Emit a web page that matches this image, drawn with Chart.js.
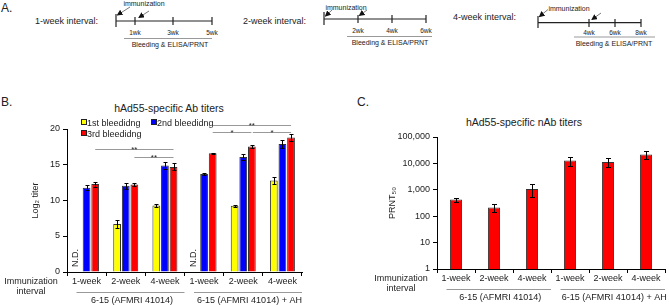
<!DOCTYPE html>
<html>
<head>
<meta charset="utf-8">
<script src="https://cdn.jsdelivr.net/npm/chart.js@4.4.1/dist/chart.umd.min.js"></script>
<style>
    body { margin: 0; width: 669px; height: 305px; position: relative; background: #fff; overflow: hidden;
           font-family: "Liberation Sans", Arial, sans-serif; color: #222; }
    .abs { position: absolute; white-space: nowrap; line-height: 1; }
    .letter { font-size: 12px; }
    .title { font-size: 10.5px; transform: translate(-50%, -50%); }
    .leg { font-size: 9px; transform: translateY(-50%); }
    .box { position: absolute; width: 4px; height: 4px; border: 1px solid #222; }
    .ytick { position: absolute; font-size: 9px; line-height: 1; white-space: nowrap; text-align: right; width: 30px; z-index: 10; color: #222; }
    canvas { position: absolute; }
</style>
</head>
<body>

<svg class="abs" style="left:0;top:0" width="669" height="95" font-family="Liberation Sans, Arial, sans-serif" fill="#222">
    <defs>
        <marker id="ah" markerWidth="6" markerHeight="6" refX="5" refY="3" orient="auto" markerUnits="userSpaceOnUse">
            <path d="M0,0 L6,3 L0,6 z" fill="#111"/>
        </marker>
    </defs>
    <text x="1" y="12" font-size="12">A.</text>

    <!-- 1-week -->
    <text x="35" y="24" font-size="9">1-week interval:</text>
    <g stroke="#222" stroke-width="1.2">
        <line x1="116" y1="21" x2="212" y2="21"/>
        <line x1="116" y1="14" x2="116" y2="27"/>
        <line x1="135" y1="17" x2="135" y2="25"/>
        <line x1="173" y1="17" x2="173" y2="25"/>
        <line x1="212" y1="17" x2="212" y2="25"/>
    </g>
    <g font-size="6.5" text-anchor="middle">
        <text x="135" y="34.5">1wk</text><text x="173" y="34.5">3wk</text><text x="212" y="34.5">5wk</text>
    </g>
    <line x1="124" y1="38.5" x2="212" y2="38.5" stroke="#999"/>
    <text x="170" y="47" font-size="7" text-anchor="middle">Bleeding &amp; ELISA/PRNT</text>
    <text x="144" y="6" font-size="7" text-anchor="middle">immunization</text>
    <g stroke="#555" stroke-width="0.8" marker-end="url(#ah)">
        <line x1="130" y1="7" x2="117.5" y2="15"/>
        <line x1="149" y1="11" x2="139" y2="17.5"/>
    </g>

    <!-- 2-week -->
    <text x="243" y="24" font-size="9">2-week interval:</text>
    <g stroke="#222" stroke-width="1.2">
        <line x1="324" y1="19" x2="426" y2="19"/>
        <line x1="324" y1="12" x2="324" y2="25"/>
        <line x1="358" y1="15" x2="358" y2="23"/>
        <line x1="392" y1="15" x2="392" y2="23"/>
        <line x1="426" y1="15" x2="426" y2="23"/>
    </g>
    <g font-size="6.5" text-anchor="middle">
        <text x="358" y="32.5">2wk</text><text x="392" y="32.5">4wk</text><text x="426" y="32.5">6wk</text>
    </g>
    <line x1="347" y1="36.5" x2="432" y2="36.5" stroke="#999"/>
    <text x="390" y="45" font-size="7" text-anchor="middle">Bleeding &amp; ELISA/PRNT</text>
    <text x="346" y="9.5" font-size="7" text-anchor="middle">immunization</text>
    <g stroke="#555" stroke-width="0.8" marker-end="url(#ah)">
        <line x1="332" y1="10" x2="325.5" y2="16"/>
        <line x1="367" y1="10" x2="359.5" y2="15.5"/>
    </g>

    <!-- 4-week -->
    <text x="453" y="20" font-size="9">4-week interval:</text>
    <g stroke="#222" stroke-width="1.2">
        <line x1="538" y1="22.7" x2="641" y2="22.7"/>
        <line x1="538" y1="16" x2="538" y2="28"/>
        <line x1="589" y1="19" x2="589" y2="27"/>
        <line x1="615" y1="19" x2="615" y2="27"/>
        <line x1="641" y1="19" x2="641" y2="27"/>
    </g>
    <g font-size="6.5" text-anchor="middle">
        <text x="589" y="34.8">4wk</text><text x="615" y="34.8">6wk</text><text x="641" y="34.8">8wk</text>
    </g>
    <line x1="574" y1="37" x2="655" y2="37" stroke="#999"/>
    <text x="614" y="46" font-size="7" text-anchor="middle">Bleeding &amp; ELISA/PRNT</text>
    <text x="569" y="10.5" font-size="7" text-anchor="middle">immunization</text>
    <g stroke="#555" stroke-width="0.8" marker-end="url(#ah)">
        <line x1="548" y1="9.5" x2="539.5" y2="16.5"/>
        <line x1="601" y1="13" x2="592" y2="19.5"/>
    </g>
</svg>

<div class="abs letter" style="left:1px;top:96px">B.</div>
<div class="abs title" style="left:169px;top:108px">hAd55-specific Ab titers</div>
<div class="abs letter" style="left:357px;top:96px">C.</div>
<div class="abs title" style="left:524px;top:122px">hAd55-specific nAb titers</div>

<canvas id="chartB" width="310" height="205" style="left:0;top:100px"></canvas>
<canvas id="chartC" width="339" height="205" style="left:330px;top:100px"></canvas>

<div class="box" style="left:81px;top:119px;background:#ffff00"></div>
<div class="abs leg" style="left:87px;top:122.5px">1st bleedidng</div>
<div class="box" style="left:151px;top:119px;background:#0000ff"></div>
<div class="abs leg" style="left:157px;top:122.5px">2nd bleedidng</div>
<div class="box" style="left:81px;top:130px;background:#ff0000"></div>
<div class="abs leg" style="left:87px;top:133.5px">3rd bleedidng</div>

<script>
    // categories
    const intervals = ['1-week', '2-week', '4-week', '1-week', '2-week', '4-week'];
    const groups = ['6-15 (AFMRI 41014)', '6-15 (AFMRI 41014) + AH'];

    // panel B: log2 titers (null = N.D.)
    const bleed1 = [null, 6.7, 9.3, null, 9.25, 12.8];
    const bleed1Err = [null, 0.55, 0.2, null, 0.15, 0.5];
    const bleed2 = [11.8, 12.05, 14.9, 13.7, 16.1, 17.9];
    const bleed2Err = [0.4, 0.38, 0.55, 0.08, 0.42, 0.55];
    const bleed3 = [12.3, 12.25, 14.7, 16.6, 17.55, 18.8];
    const bleed3Err = [0.35, 0.2, 0.5, 0.08, 0.2, 0.47];
    const titerTicks = [0, 5, 10, 15, 20];

    // significance brackets (between 3rd bleeding bars)
    const sigFrom = [0, 1, 3, 3, 4];
    const sigTo = [2, 2, 5, 4, 5];
    const sigLevel = [17.2, 16.1, 20.6, 19.65, 19.65];
    const sigMark = ['**', '**', '**', '*', '*'];

    // panel C: PRNT50
    const prnt = [430, 215, 1070, 13000, 11400, 21500];
    const prntErr = [75, 70, 550, 5000, 4200, 7000];
    const prntTicks = [1, 10, 100, 1000, 10000, 100000];

    const FONT = '"Liberation Sans", Arial, sans-serif';
    Chart.defaults.font.family = FONT;
    Chart.defaults.color = '#222';

    function drawErrors(chart, errs, cap) {
        const ctx = chart.ctx, yS = chart.scales.y;
        ctx.save();
        ctx.strokeStyle = '#000';
        ctx.lineWidth = 1;
        chart.data.datasets.forEach(function (ds, d) {
            chart.getDatasetMeta(d).data.forEach(function (bar, i) {
                const v = ds.data[i], e = errs[d][i];
                if (v == null || e == null) return;
                const x = Math.round(bar.x) + 0.5;
                const t = Math.round(yS.getPixelForValue(v + e)) + 0.5;
                const b = Math.round(yS.getPixelForValue(v - e)) + 0.5;
                ctx.beginPath();
                ctx.moveTo(x, t); ctx.lineTo(x, b);
                ctx.moveTo(x - cap, t); ctx.lineTo(x + cap, t);
                ctx.moveTo(x - cap, b); ctx.lineTo(x + cap, b);
                ctx.stroke();
            });
        });
        ctx.restore();
    }

    function drawGroups(chart) {
        const ctx = chart.ctx, xS = chart.scales.x, area = chart.chartArea;
        const half = (xS.getPixelForValue(1) - xS.getPixelForValue(0)) / 2;
        ctx.save();
        ctx.font = '9px ' + FONT;
        ctx.textAlign = 'center';
        ctx.textBaseline = 'middle';
        ctx.fillStyle = '#222';
        groups.forEach(function (g, k) {
            const x0 = xS.getPixelForValue(k * 3) - half + 9.5;
            const x1 = xS.getPixelForValue(k * 3 + 2) + half;
            const ly = Math.round(area.bottom + 19.5) + 0.5;
            ctx.strokeStyle = '#999';
            ctx.beginPath();
            ctx.moveTo(x0, ly); ctx.lineTo(x1, ly);
            ctx.stroke();
            ctx.fillText(g, (x0 + x1) / 2 + 1.5, area.bottom + 28.5);
        });
        ctx.fillText('Immunization', area.left - 36, area.bottom + 9.5);
        ctx.fillText('interval', area.left - 36, area.bottom + 19.5);
        ctx.restore();
    }

    const plotB = {
        id: 'plotB',
        afterDatasetsDraw(chart) {
            drawErrors(chart, [bleed1Err, bleed2Err, bleed3Err], 2);
            const ctx = chart.ctx, yS = chart.scales.y, area = chart.chartArea;
            const red = chart.getDatasetMeta(2).data;
            const yellow = chart.getDatasetMeta(0).data;
            ctx.save();
            // brackets
            ctx.font = '8px ' + FONT;
            ctx.textAlign = 'center';
            ctx.textBaseline = 'alphabetic';
            ctx.fillStyle = '#222';
            sigFrom.forEach(function (a, k) {
                const y = Math.round(yS.getPixelForValue(sigLevel[k])) + 0.5;
                const x0 = red[a].x + (k === 4 ? 1 : 0);
                const x1 = red[sigTo[k]].x - (k === 3 ? 0.5 : 0);
                ctx.strokeStyle = '#999';
                ctx.beginPath();
                ctx.moveTo(x0, y); ctx.lineTo(x1, y);
                ctx.stroke();
                ctx.fillText(sigMark[k], (x0 + x1) / 2, y + 2.5);
            });
            // N.D.
            ctx.font = '9px ' + FONT;
            ctx.textAlign = 'left';
            ctx.textBaseline = 'middle';
            bleed1.forEach(function (v, i) {
                if (v != null) return;
                ctx.save();
                ctx.translate(yellow[i].x - 2, area.bottom - 5);
                ctx.rotate(-Math.PI / 2);
                ctx.fillText('N.D.', 0, 0);
                ctx.restore();
            });
            ctx.restore();
            drawGroups(chart);
        }
    };

    const plotC = {
        id: 'plotC',
        afterDatasetsDraw(chart) {
            drawErrors(chart, [prntErr], 2.5);
            drawGroups(chart);
        }
    };

    const axisGrid = { display: true, drawOnChartArea: false, drawTicks: true, tickLength: 4, color: '#000' };

    const chartB = new Chart(document.getElementById('chartB'), {
        type: 'bar',
        data: {
            labels: intervals,
            datasets: [
                { label: '1st bleedidng', data: bleed1, backgroundColor: '#ffff00' },
                { label: '2nd bleedidng', data: bleed2, backgroundColor: '#0000ff' },
                { label: '3rd bleedidng', data: bleed3, backgroundColor: '#ff0000' }
            ]
        },
        options: {
            responsive: false,
            animation: false,
            devicePixelRatio: 1,
            layout: { padding: { left: 26, right: 8, top: 29, bottom: 0 } },
            datasets: { bar: { categoryPercentage: 0.66, barPercentage: 0.9, borderWidth: 1, borderColor: '#333' } },
            plugins: { legend: { display: false }, tooltip: { enabled: false } },
            scales: {
                x: {
                    grid: Object.assign({ offset: true }, axisGrid),
                    border: { color: '#000' },
                    ticks: { padding: 0, font: { size: 9 }, maxRotation: 0, autoSkip: false },
                    afterFit: function (axis) { axis.height = 33; }
                },
                y: {
                    min: 0, max: 20,
                    afterBuildTicks: function (axis) { axis.ticks = titerTicks.map(v => ({ value: v })); },
                    grid: Object.assign({}, axisGrid),
                    border: { color: '#000' },
                    ticks: { padding: 3, font: { size: 9 }, color: 'rgba(0,0,0,0)' },
                    title: { display: true, text: 'Log₂ titer', font: { size: 9 }, padding: { top: 4, bottom: 0 } },
                    afterFit: function (axis) { axis.width = 41; }
                }
            }
        },
        plugins: [plotB]
    });

    // panel B y tick labels as page text, placed with the chart's own y scale
    (function () {
        const area = chartB.chartArea, yS = chartB.scales.y;
        titerTicks.forEach(function (v) {
            let py = yS.getPixelForValue(v);
            if (!isFinite(py)) py = area.bottom - (area.bottom - area.top) * v / titerTicks[titerTicks.length - 1];
            const el = document.createElement('div');
            el.className = 'ytick';
            el.textContent = String(v);
            el.style.left = (area.left - 7 - 30) + 'px';
            el.style.top = (100 + py - 5) + 'px';
            document.body.appendChild(el);
        });
    })();

    new Chart(document.getElementById('chartC'), {
        type: 'bar',
        data: {
            labels: intervals,
            datasets: [{ label: 'PRNT50', data: prnt, backgroundColor: '#ff0000' }]
        },
        options: {
            responsive: false,
            animation: false,
            devicePixelRatio: 1,
            layout: { padding: { left: 53, right: 4, top: 37, bottom: 0 } },
            datasets: { bar: { categoryPercentage: 0.8, barPercentage: 0.4, borderWidth: 1, borderColor: '#333' } },
            plugins: { legend: { display: false }, tooltip: { enabled: false } },
            scales: {
                x: {
                    grid: Object.assign({ offset: true }, axisGrid),
                    border: { color: '#000' },
                    ticks: { padding: 0, font: { size: 9 }, maxRotation: 0, autoSkip: false },
                    afterFit: function (axis) { axis.height = 36; }
                },
                y: {
                    type: 'logarithmic',
                    min: 1, max: 100000,
                    afterBuildTicks: function (axis) { axis.ticks = prntTicks.map(v => ({ value: v })); },
                    grid: Object.assign({}, axisGrid),
                    border: { color: '#000' },
                    ticks: { padding: 3, font: { size: 9 }, autoSkip: false, callback: v => Number(v).toLocaleString('en-US') },
                    title: { display: true, text: 'PRNT₅₀', font: { size: 9 }, padding: { top: 4, bottom: 0 } },
                    afterFit: function (axis) { axis.width = 54; }
                }
            }
        },
        plugins: [plotC]
    });
</script>
</body>
</html>
